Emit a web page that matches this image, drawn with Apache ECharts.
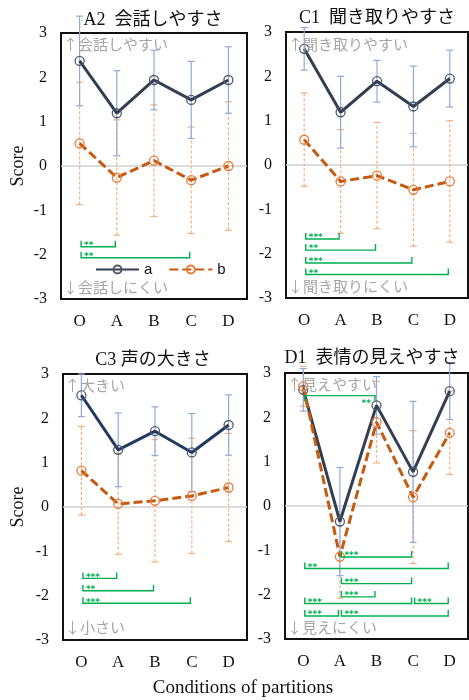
<!DOCTYPE html>
<html><head><meta charset="utf-8">
<script src="https://cdn.jsdelivr.net/npm/echarts@6/dist/echarts.min.js"></script>
<style>html,body{margin:0;padding:0;background:#fff}#c{width:469px;height:700px}</style>
</head><body><div id="c"></div>
<script>
const categories = ['O','A','B','C','D'];
const yTicks = [-3,-2,-1,0,1,2,3];

// A2 会話しやすさ
const a2MeanA = [2.37, 1.19, 1.94, 1.49, 1.94];
const a2ErrA  = [1.01, 0.96, 0.67, 0.87, 0.75];
const a2MeanB = [0.51, -0.26, 0.12, -0.32, 0.00];
const a2ErrB  = [1.38, 1.30, 1.26, 1.20, 1.45];
const a2Sig   = [[0, 1, -1.82, '**'], [0, 3, -2.07, '**']];

// C1 聞き取りやすさ
const c1MeanA = [2.62, 1.19, 1.89, 1.32, 1.95];
const c1ErrA  = [0.48, 0.81, 0.47, 0.91, 0.64];
const c1MeanB = [0.57, -0.37, -0.24, -0.56, -0.37];
const c1ErrB  = [1.05, 1.17, 1.20, 1.27, 1.37];
const c1Sig   = [[0, 1, -1.67, '***'], [0, 2, -1.92, '**'], [0, 3, -2.21, '***'], [0, 4, -2.47, '**']];

// C3 声の大きさ
const c3MeanA = [2.52, 1.29, 1.71, 1.23, 1.85];
const c3ErrA  = [0.48, 0.83, 0.55, 0.88, 0.68];
const c3MeanB = [0.82, 0.07, 0.14, 0.25, 0.44];
const c3ErrB  = [1.00, 1.14, 1.38, 1.30, 1.22];
const c3Sig   = [[0, 1, -1.61, '***'], [0, 2, -1.89, '**'], [0, 3, -2.17, '***']];

// D1 表情の見えやすさ
const d1MeanA = [2.62, -0.35, 2.27, 0.77, 2.59];
const d1ErrA  = [0.48, 1.22, 0.65, 1.59, 0.64];
const d1MeanB = [2.70, -1.14, 1.89, 0.20, 1.65];
const d1ErrB  = [0.45, 0.94, 0.92, 1.50, 0.94];
const d1Sig   = [[1, 3, -1.15, '***'], [0, 4, -1.41, '**'], [1, 3, -1.75, '***'], [1, 2, -2.05, '***'],
                 [0, 3, -2.20, '***'], [3, 4, -2.20, '***'], [0, 1, -2.48, '***'], [1, 4, -2.48, '***'],
                 [0, 2, 2.49, '**']];

const titles = ['A2  会話しやすさ', 'C1  聞き取りやすさ', 'C3 声の大きさ', 'D1  表情の見えやすさ'];
const topNotes = ['↑会話しやすい', '↑聞き取りやすい', '↑大きい', '↑見えやすい'];
const bottomNotes = ['↓会話しにくい', '↓聞き取りにくい', '↓小さい', '↓見えにくい'];
const seriesNames = ['a', 'b'];

const panels = [
  {mA:a2MeanA, eA:a2ErrA, mB:a2MeanB, eB:a2ErrB, sig:a2Sig, lineA:'#333F50'},
  {mA:c1MeanA, eA:c1ErrA, mB:c1MeanB, eB:c1ErrB, sig:c1Sig, lineA:'#333F50'},
  {mA:c3MeanA, eA:c3ErrA, mB:c3MeanB, eB:c3ErrB, sig:c3Sig, lineA:'#223A60'},
  {mA:d1MeanA, eA:d1ErrA, mB:d1MeanB, eB:d1ErrB, sig:d1Sig, lineA:'#333F50'}
];

const gridBoxes = [
  {left:61, top:33, width:186, height:266},
  {left:286, top:32, width:182, height:266},
  {left:63, top:374, width:184, height:266},
  {left:285, top:373, width:183, height:266}
];

const SERIF = "'Liberation Serif','Times New Roman',serif";
const JP = "'Noto Sans CJK JP','Noto Sans',sans-serif";
const GREEN = '#00B050';

function errRender(color, dashed) {
  return function (params, api) {
    const x = api.value(0);
    const lo = api.coord([x, api.value(1)]);
    const hi = api.coord([x, api.value(2)]);
    const hw = 3.5;
    const st = {stroke: color, lineWidth: 1.2, lineDash: dashed ? [3, 2] : null, fill: null};
    return {type:'group', children:[
      {type:'line', shape:{x1:lo[0], y1:lo[1], x2:hi[0], y2:hi[1]}, style:st},
      {type:'line', shape:{x1:lo[0]-hw, y1:lo[1], x2:lo[0]+hw, y2:lo[1]}, style:{stroke:color, lineWidth:1.2}},
      {type:'line', shape:{x1:hi[0]-hw, y1:hi[1], x2:hi[0]+hw, y2:hi[1]}, style:{stroke:color, lineWidth:1.2}}
    ]};
  };
}

function sigRender(sig) {
  return function (params, api) {
    const s = sig[params.dataIndex];
    const p1 = api.coord([api.value(0), api.value(2)]);
    const p2 = api.coord([api.value(1), api.value(2)]);
    const up = s[2] < 0;           // bottom brackets: ticks go up
    const th = up ? -6 : 6;
    const x1 = p1[0] + 1.5, x2 = p2[0] - 1.5, y = p1[1];
    const children = [
      {type:'polyline', shape:{points:[[x1, y+th],[x1, y],[x2, y],[x2, y+th]]},
       style:{stroke:GREEN, lineWidth:1.4, fill:null}}
    ];
    children.push({type:'text', style:{
      text: s[3], x: up ? x1 + 3 : x2 - 4, y: up ? y - 1 : y + 8,
      align: up ? 'left' : 'right', verticalAlign:'middle',
      fill: GREEN, font: "bold 9px 'DejaVu Sans'"}});
    return {type:'group', children: children};
  };
}

const grid = gridBoxes.map(g => Object.assign({show:true, borderColor:'#111', borderWidth:2, backgroundColor:'#fff'}, g));
const xAxis = gridBoxes.map((g, i) => ({
  type:'category', gridIndex:i, data:categories, boundaryGap:true,
  axisLine:{show:false}, axisTick:{show:false},
  axisLabel:{margin:14, fontFamily:SERIF, fontSize:17, color:'#111'}
}));
const yAxis = gridBoxes.map((g, i) => ({
  type:'value', gridIndex:i, min:yTicks[0], max:yTicks[yTicks.length-1], interval:1,
  axisLine:{show:false}, axisTick:{show:false}, splitLine:{show:false},
  axisLabel:{margin:14, fontFamily:SERIF, fontSize:16, color:'#111'}
}));

const series = [];
panels.forEach((p, i) => {
  series.push({
    type:'custom', xAxisIndex:i, yAxisIndex:i, z:2, silent:true,
    renderItem: errRender('#F4B183', true),
    data: p.mB.map((m, k) => [k, m - p.eB[k], m + p.eB[k]])
  });
  series.push({
    type:'custom', xAxisIndex:i, yAxisIndex:i, z:2, silent:true,
    renderItem: errRender('#8FAADC', false),
    data: p.mA.map((m, k) => [k, m - p.eA[k], m + p.eA[k]])
  });
  series.push({
    name: seriesNames[0], type:'line', xAxisIndex:i, yAxisIndex:i, z:3,
    data: p.mA, symbol:'circle', symbolSize:9,
    lineStyle:{color:p.lineA, width:3},
    itemStyle:{color:'rgba(255,255,255,0)', borderColor:'#505A6A', borderWidth:1.3},
    markLine:{silent:true, symbol:'none', label:{show:false},
      lineStyle:{color:'#D0D0D0', width:1.5, type:'solid'}, data:[{yAxis:0}], z:1},
    animation:false
  });
  series.push({
    name: seriesNames[1], type:'line', xAxisIndex:i, yAxisIndex:i, z:4,
    data: p.mB, symbol:'circle', symbolSize:9,
    lineStyle:{color:'#C55A11', width:3, type:[9, 4]},
    itemStyle:{color:'rgba(255,255,255,0)', borderColor:'#E97B3A', borderWidth:1.3},
    animation:false
  });
  series.push({
    type:'custom', xAxisIndex:i, yAxisIndex:i, z:5, silent:true,
    renderItem: sigRender(p.sig),
    data: p.sig.map(s => [s[0], s[1], s[2]])
  });
});

const titlePos = [[153, 20], [377, 18], [153, 360], [372, 358]];
const topNotePos = [[63, 44], [288, 44], [65, 385], [287, 384]];
const bottomNotePos = [[63, 287], [288, 286], [65, 627], [287, 627]];

const graphic = [];
titles.forEach((t, i) => graphic.push({type:'text', left:null, x:titlePos[i][0], y:titlePos[i][1], z:10,
  style:{text:t, align:'center', verticalAlign:'middle', fill:'#111', font:"18px " + SERIF.replace("serif", "'Noto Sans CJK JP',serif")}}));
topNotes.forEach((t, i) => graphic.push({type:'text', x:topNotePos[i][0], y:topNotePos[i][1], z:10,
  style:{text:t, align:'left', verticalAlign:'middle', fill:'#A6A6A6', font:"15px " + JP}}));
bottomNotes.forEach((t, i) => graphic.push({type:'text', x:bottomNotePos[i][0], y:bottomNotePos[i][1], z:10,
  style:{text:t, align:'left', verticalAlign:'middle', fill:'#A6A6A6', font:"15px " + JP}}));
[[18, 166], [18, 507]].forEach(pt => graphic.push({type:'text', x:pt[0], y:pt[1], rotation:Math.PI/2, z:10,
  style:{text:'Score', align:'center', verticalAlign:'middle', fill:'#111', font:"18px " + SERIF}}));
graphic.push({type:'text', x:243, y:688, z:10,
  style:{text:'Conditions of partitions', align:'center', verticalAlign:'middle', fill:'#111', font:"19px " + SERIF}});

const chart = echarts.init(document.getElementById('c'), null, {renderer:'canvas'});
chart.setOption({
  animation:false,
  backgroundColor:'#fff',
  grid, xAxis, yAxis, series, graphic,
  legend:{data:seriesNames, left:95, top:262, itemWidth:43, itemHeight:10, itemGap:16, padding:0,
    textStyle:{fontFamily:"'Liberation Sans',sans-serif", fontSize:15, color:'#111'}}
});
</script></body></html>
